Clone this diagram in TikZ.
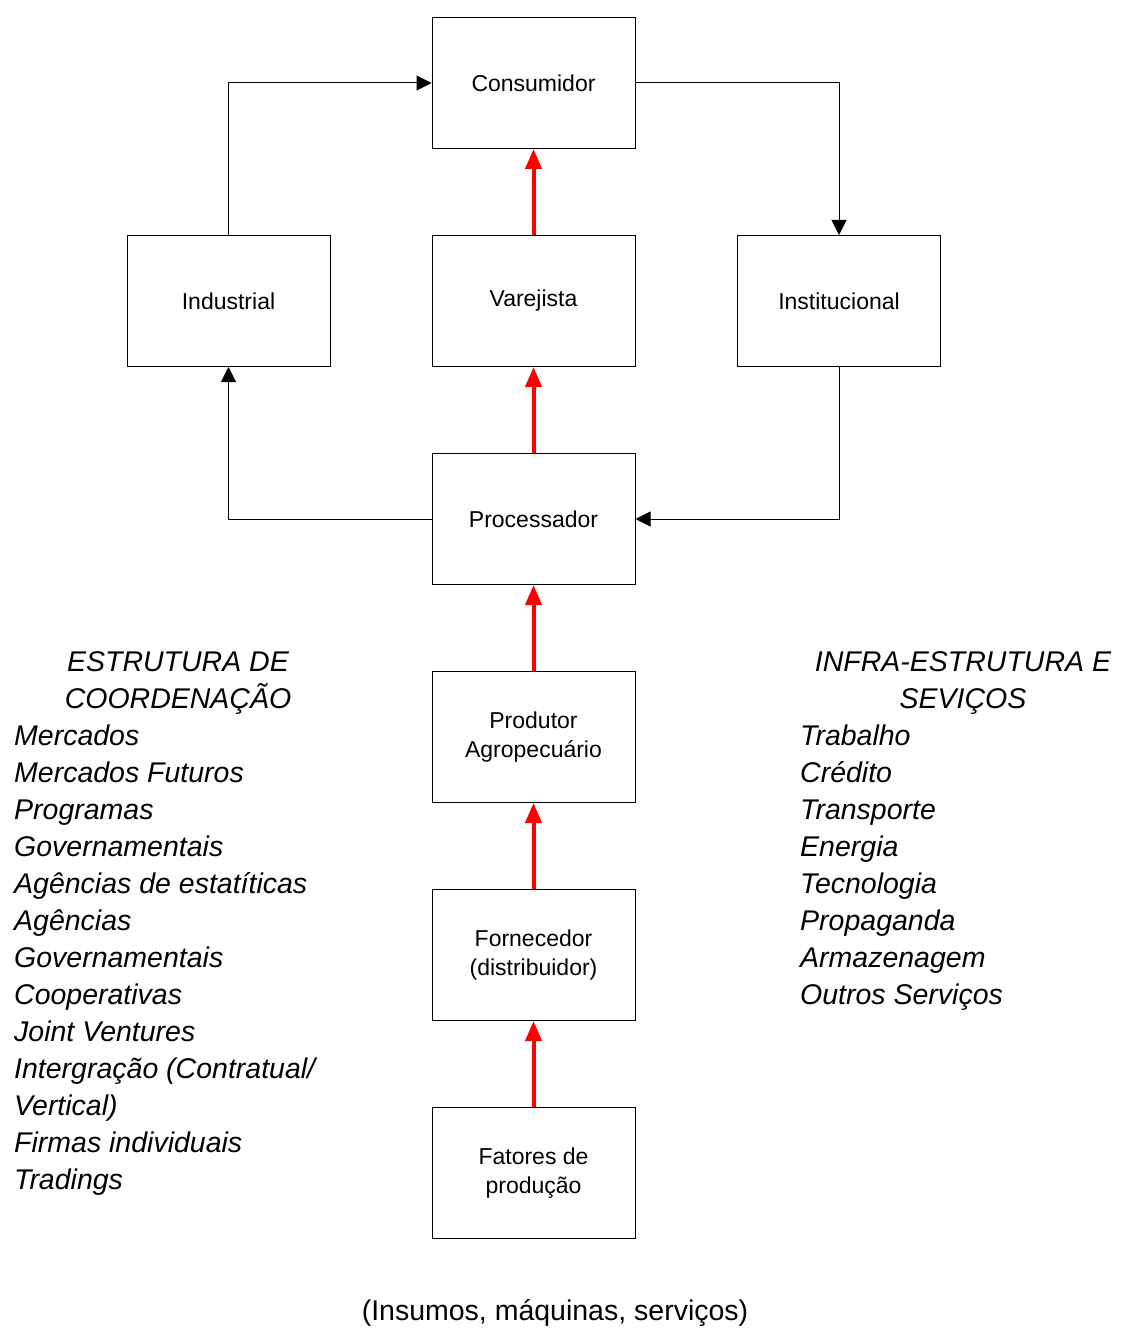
\documentclass[tikz,border=0pt]{standalone}
\usepackage{fontspec}
\setmainfont{Liberation Sans}
\usetikzlibrary{arrows.meta}
\begin{document}
\begin{tikzpicture}[x=1pt,y=-1pt,
 box/.style={draw=black,line width=1pt,minimum width=203pt,minimum height=131pt,inner sep=0pt,align=center,font=\fontsize{23}{29}\selectfont},
 flow/.style={draw=red,line width=4pt,-{Triangle[length=20pt,width=16pt]}},
 link/.style={draw=black,line width=1pt,-{Triangle[length=15pt,width=15pt]}},
 lst/.style={anchor=base west,inner sep=0pt,font=\fontsize{28.5}{37}\selectfont\itshape},
 hdr/.style={anchor=base,inner sep=0pt,font=\fontsize{28.5}{37}\selectfont\itshape}]
\useasboundingbox[fill=white] (0,0) rectangle (1120,1329);

\node[box] (cons) at (533.5,83) {Consumidor};
\node[box] (ind) at (228.5,301) {Industrial};
\node[box] (var) at (533.5,301) {Varejista};
\node[box] (inst) at (839,301) {Institucional};
\node[box] (proc) at (533.5,519) {Processador};
\node[box] (prod) at (533.5,737) {Produtor\\Agropecuário};
\node[box] (forn) at (533.5,955) {Fornecedor\\(distribuidor)};
\node[box] (fat) at (533.5,1173) {Fatores de\\produção};

\draw[flow] (var.north) -- (cons.south);
\draw[flow] (proc.north) -- (var.south);
\draw[flow] (prod.north) -- (proc.south);
\draw[flow] (forn.north) -- (prod.south);
\draw[flow] (fat.north) -- (forn.south);

\draw[link] (ind.north) |- (cons.west);
\draw[link] (cons.east) -| (inst.north);
\draw[link] (inst.south) |- (proc.east);
\draw[link] (proc.west) -| (ind.south);

\node[hdr] (lh1) at (178,671) {ESTRUTURA DE};
\node[hdr] (lh2) at (178,708) {COORDENAÇÃO};
\foreach \t [count=\i] in {Mercados,Mercados Futuros,Programas,Governamentais,Agências de estatíticas,Agências,Governamentais,Cooperativas,Joint Ventures,Intergração (Contratual/,Vertical),Firmas individuais,Tradings}
  \node[lst] (L\i) at (14,708+37*\i) {\t};

\node[hdr] (rh1) at (963,671) {INFRA-ESTRUTURA E};
\node[hdr] (rh2) at (963,708) {SEVIÇOS};
\foreach \t [count=\i] in {Trabalho,Crédito,Transporte,Energia,Tecnologia,Propaganda,Armazenagem,Outros Serviços}
  \node[lst] (R\i) at (800,708+37*\i) {\t};

\node[inner sep=0pt,font=\fontsize{28.5}{34}\selectfont] (ins) at (555,1313) {(Insumos, máquinas, serviços)};
\end{tikzpicture}
\end{document}
